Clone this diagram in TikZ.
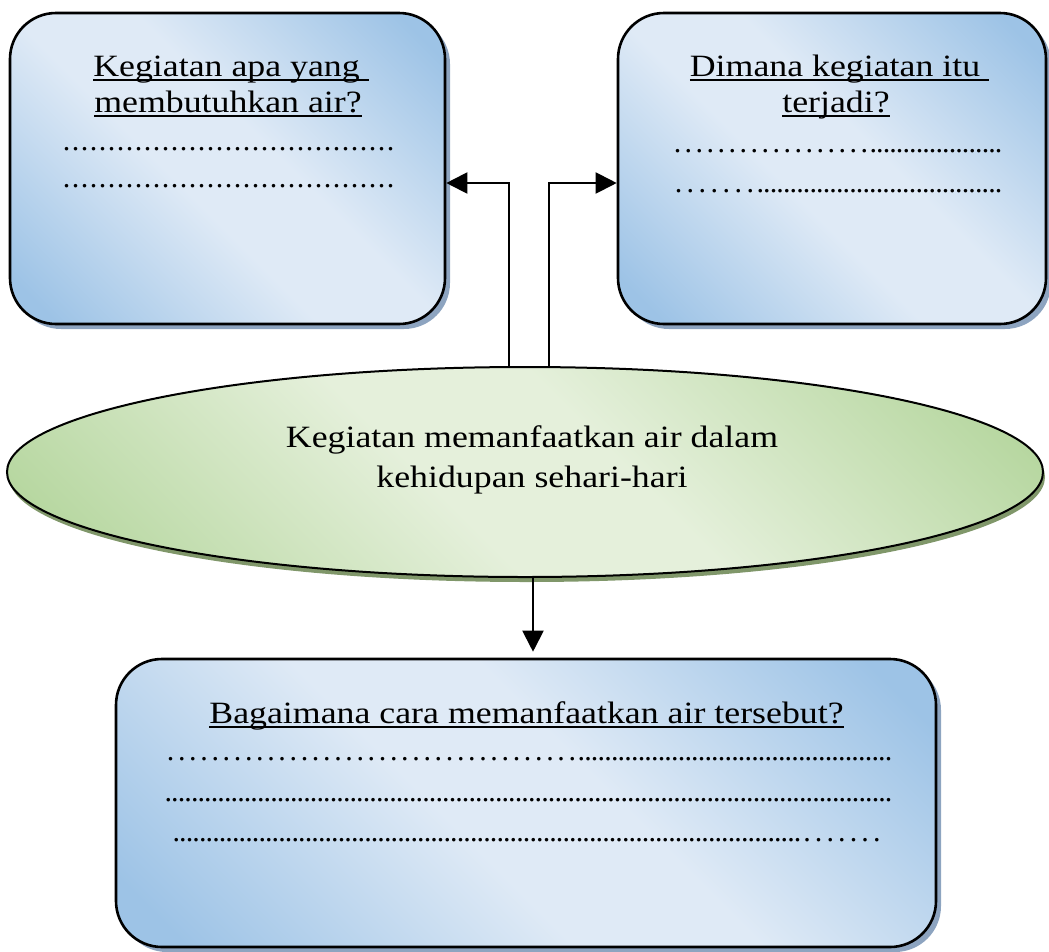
\documentclass[tikz,border=0pt]{standalone}
\usepackage{fontspec}
\usepackage{graphicx}
\setmainfont{Liberation Serif}
\usetikzlibrary{shapes.geometric,arrows.meta,shadows}
\definecolor{bdark}{HTML}{9DC3E6}
\definecolor{blight}{HTML}{DFEAF6}
\definecolor{gdark}{HTML}{B5D69E}
\definecolor{glight}{HTML}{E5F0DB}
\definecolor{bshadow}{HTML}{8DA4C0}
\definecolor{gshadow}{HTML}{80976A}
\pgfdeclarehorizontalshading{bluediag}{100bp}{color(0bp)=(bdark); color(19bp)=(bdark); color(44bp)=(blight); color(56bp)=(blight); color(81bp)=(bdark); color(100bp)=(bdark)}
\pgfdeclarehorizontalshading{greendiag}{100bp}{color(0bp)=(gdark); color(19bp)=(gdark); color(44bp)=(glight); color(56bp)=(glight); color(81bp)=(gdark); color(100bp)=(gdark)}
\newcommand\ulq[1]{\setbox0=\hbox{#1}\rlap{\rule[-4.7pt]{\wd0}{1.4pt}}\box0}
\newcommand\sx[1]{\scalebox{1.155}[1]{#1}}
\newcommand\fdots[1]{\hbox to #1{\xleaders\hbox to 6.6pt{\hss.\hss}\hfill}}
\newcommand\mdots[1]{\hbox to #1{\xleaders\hbox to 9pt{\hss.\hss}\hfill}}
\newcommand\sdots[1]{\hbox to #1{\xleaders\hbox to 11pt{\hss.\hss}\hfill}}
\tikzset{
  qbox/.style={draw=black, line width=2.6pt, rounded corners=46pt, shading=bluediag, shading angle=45,
    drop shadow={shadow xshift=5pt, shadow yshift=-5pt, fill=bshadow, opacity=1}},
  qell/.style={ellipse, draw=black, line width=2pt, shading=greendiag, shading angle=45,
    drop shadow={shadow xshift=2pt, shadow yshift=-5pt, fill=gshadow, opacity=1}},
  tx/.style={inner sep=0pt, outer sep=0pt, font=\fontsize{31}{36}\selectfont},
  dt/.style={inner sep=0pt, outer sep=0pt, font=\fontsize{30}{36}\selectfont},
  conn/.style={draw=black, line width=2pt, -{Triangle[length=21pt,width=21pt]}},
}
\begin{document}
\begin{tikzpicture}[x=1pt,y=-1pt]
\useasboundingbox (0,0) rectangle (1049,951);
% boxes
\node[qbox, minimum width=435pt, minimum height=311pt] (lbox) at (227.5,168.5) {};
\node[qbox, minimum width=428pt, minimum height=311pt] (rbox) at (832,168.5) {};
\node[qbox, minimum width=820pt, minimum height=288pt] (bbox) at (526,803) {};
\node[qell, minimum width=1036pt, minimum height=210pt, inner sep=0pt] (ell) at (525,472) {};
% connectors
\draw[conn] ([xshift=-16pt]ell.north) |- ([yshift=-14.5pt]lbox.east);
\draw[conn] ([xshift=24pt]ell.north) |- ([yshift=-14.5pt]rbox.west);
\draw[conn, shorten >=6pt] ([xshift=8pt]ell.south) -- ([xshift=7pt]bbox.north);
% left box text
\node[tx, anchor=base] (l1) at (231,76) {\sx{\ulq{Kegiatan apa yang\ }}};
\node[tx, anchor=base] (l2) at (228,112) {\sx{\ulq{membutuhkan air?}}};
\node[dt, anchor=base west] (l3) at (62,150) {\mdots{333pt}};
\node[dt, anchor=base west] (l4) at (62,187) {\mdots{333pt}};
% right box text
\node[tx, anchor=base] (r1) at (839.5,76) {\sx{\ulq{Dimana kegiatan itu\ }}};
\node[tx, anchor=base] (r2) at (836,112) {\sx{\ulq{terjadi?}}};
\node[dt, anchor=base west] (r3) at (672,152) {\sdots{198pt}\fdots{132pt}};
\node[dt, anchor=base west] (r4) at (672,192) {\sdots{85pt}\fdots{245pt}};
% ellipse text
\node[tx, anchor=base] (e1) at (532,447) {\sx{Kegiatan memanfaatkan air dalam}};
\node[tx, anchor=base] (e2) at (532,487) {\sx{kehidupan sehari-hari}};
% bottom box text
\node[tx, anchor=base] (b1) at (526.5,723) {\sx{\ulq{Bagaimana cara memanfaatkan air tersebut?}}};
\node[dt, anchor=base west] (b2) at (165,760) {\sdots{413pt}\fdots{314pt}};
\node[dt, anchor=base west] (b3) at (165,801) {\fdots{727pt}};
\node[dt, anchor=base west] (b4) at (173,841) {\fdots{628pt}\sdots{82pt}};
\end{tikzpicture}
\end{document}
